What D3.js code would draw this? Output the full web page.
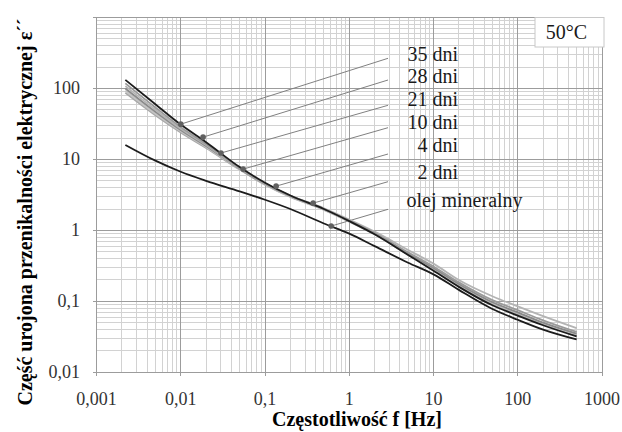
<!DOCTYPE html>
<html>
<head>
<meta charset="utf-8">
<script src="https://cdn.jsdelivr.net/npm/d3@7"></script>
<style>
  body { margin: 0; background: #fff; }
  svg { display: block; }
</style>
</head>
<body>
<svg id="chart" width="622" height="432" font-family="Liberation Serif, Times New Roman, serif"></svg>
<script>
// Frequencies [Hz] shared by all series
const freqs = [0.0022, 0.005, 0.01, 0.02, 0.05, 0.1, 0.2, 0.5, 1, 2, 5, 10, 20, 50, 100, 200, 500];

// Imaginary part of permittivity for each ageing time
const dni35 = [132, 60, 31, 17.5, 7.8, 4.7, 3.1, 2.0, 1.35, 0.88, 0.45, 0.27, 0.16, 0.088, 0.063, 0.046, 0.032];
const dni28 = [118, 54, 28.5, 16.5, 7.6, 4.6, 3.1, 2.02, 1.38, 0.92, 0.49, 0.31, 0.185, 0.104, 0.075, 0.054, 0.037];
const dni21 = [108, 50, 27, 16, 7.5, 4.55, 3.1, 2.05, 1.42, 0.96, 0.53, 0.34, 0.2, 0.118, 0.085, 0.062, 0.042];
const dni10 = [100, 47, 26, 15.5, 7.4, 4.5, 3.05, 2.0, 1.37, 0.9, 0.47, 0.295, 0.175, 0.097, 0.07, 0.05, 0.035];
const dni4 = [93, 44, 25, 15, 7.3, 4.45, 3.0, 1.98, 1.35, 0.89, 0.46, 0.29, 0.172, 0.095, 0.068, 0.049, 0.034];
const dni2 = [87, 42, 24, 14.5, 7.2, 4.4, 2.95, 1.95, 1.33, 0.88, 0.455, 0.285, 0.168, 0.092, 0.066, 0.048, 0.033];
const olej = [16, 9.6, 6.7, 5.0, 3.55, 2.7, 2.0, 1.25, 0.9, 0.6, 0.35, 0.24, 0.145, 0.078, 0.055, 0.04, 0.029];

// Series labels and where their leader lines touch the curves
const labels = ['35 dni', '28 dni', '21 dni', '10 dni', '4 dni', '2 dni', 'olej mineralny'];
const markerF = [0.01, 0.0184, 0.03, 0.055, 0.1355, 0.373, 0.61];
const markerV = [31.4, 20.6, 12.3, 7.3, 4.2, 2.42, 1.15];

// Tick labels
const xTicks = [0.001, 0.01, 0.1, 1, 10, 100, 1000];
const xTickLabels = ['0,001', '0,01', '0,1', '1', '10', '100', '1000'];
const yTicks = [0.01, 0.1, 1, 10, 100];
const yTickLabels = ['0,01', '0,1', '1', '10', '100'];

const seriesValues = [dni35, dni28, dni21, dni10, dni4, dni2, olej];
const seriesColors = ['#1c1c1c', '#9a9a9a', '#b4b4b4', '#8a8a8a', '#c4c4c4', '#a8a8a8', '#1c1c1c'];

const svg = d3.select('#chart');

// Plot area in pixels
const plot = { left: 96.5, right: 602, top: 17.5, bottom: 372.3 };

const x = d3.scaleLog().domain([0.001, 1000]).range([plot.left, plot.right]);
const y = d3.scaleLog().domain([0.01, 1000]).range([plot.bottom, plot.top]);

// Minor and major grid values
const minorX = [], minorY = [];
for (let e = -3; e < 3; e++) for (let m = 2; m <= 9; m++) minorX.push(m * Math.pow(10, e));
for (let e = -2; e < 3; e++) for (let m = 2; m <= 9; m++) minorY.push(m * Math.pow(10, e));
const majorX = xTicks;
const majorY = [0.01, 0.1, 1, 10, 100, 1000];

const grid = svg.append('g').attr('shape-rendering', 'crispEdges');
grid.selectAll('.mx').data(minorX).enter().append('line')
    .attr('x1', d => x(d)).attr('x2', d => x(d))
    .attr('y1', plot.top).attr('y2', plot.bottom)
    .attr('stroke', '#d2d2d2');
grid.selectAll('.my').data(minorY).enter().append('line')
    .attr('x1', plot.left).attr('x2', plot.right)
    .attr('y1', d => y(d)).attr('y2', d => y(d))
    .attr('stroke', '#d2d2d2');
grid.selectAll('.Mx').data(majorX).enter().append('line')
    .attr('x1', d => x(d)).attr('x2', d => x(d))
    .attr('y1', plot.top).attr('y2', plot.bottom + 4)
    .attr('stroke', '#9c9c9c');
grid.selectAll('.My').data(majorY).enter().append('line')
    .attr('x1', plot.left - 4).attr('x2', plot.right)
    .attr('y1', d => y(d)).attr('y2', d => y(d))
    .attr('stroke', '#9c9c9c');

// Tick labels
svg.selectAll('.xl').data(xTicks).enter().append('text')
    .attr('x', d => x(d)).attr('y', 405)
    .attr('text-anchor', 'middle')
    .attr('font-size', 18).attr('fill', '#333')
    .text((d, i) => xTickLabels[i]);
svg.selectAll('.yl').data(yTicks).enter().append('text')
    .attr('x', 80).attr('y', d => y(d) + 6)
    .attr('text-anchor', 'end')
    .attr('font-size', 18).attr('fill', '#333')
    .text((d, i) => yTickLabels[i]);

// Axis titles
svg.append('text')
    .attr('x', 357).attr('y', 426)
    .attr('text-anchor', 'middle')
    .attr('font-size', 20).attr('font-weight', 'bold')
    .text('Częstotliwość f [Hz]');
svg.append('text')
    .attr('transform', 'translate(32,212) rotate(-90)')
    .attr('text-anchor', 'middle')
    .attr('font-size', 20).attr('font-weight', 'bold')
    .text('Część urojona przenikalności elektrycznej ε´´');

// Leader lines from labels to curves
const leaderEndY = [58.3, 80, 105.3, 127.7, 154, 181.7, 209.3];
svg.selectAll('.leader').data(labels).enter().append('line')
    .attr('x1', (d, i) => x(markerF[i])).attr('y1', (d, i) => y(markerV[i]))
    .attr('x2', 388).attr('y2', (d, i) => leaderEndY[i])
    .attr('stroke', '#808080').attr('stroke-width', 1);

// Curves
const line = d3.line()
    .x((d, i) => x(freqs[i]))
    .y(d => y(d))
    .curve(d3.curveMonotoneX);

const order = [5, 4, 3, 2, 1, 6, 0];
order.forEach(k => {
    svg.append('path')
        .datum(seriesValues[k])
        .attr('fill', 'none')
        .attr('stroke', seriesColors[k])
        .attr('stroke-width', 1.8)
        .attr('d', line);
});

// Marker dots
svg.selectAll('.dot').data(labels).enter().append('circle')
    .attr('cx', (d, i) => x(markerF[i])).attr('cy', (d, i) => y(markerV[i]))
    .attr('r', 2.8).attr('fill', '#606060');

// Labels
const labelBaseY = [61, 82.7, 106, 129.3, 151.7, 179, 206.7];
svg.selectAll('.lbl').data(labels).enter().append('text')
    .attr('x', (d, i) => i < 6 ? 458 : 406.5)
    .attr('y', (d, i) => labelBaseY[i])
    .attr('text-anchor', (d, i) => i < 6 ? 'end' : 'start')
    .attr('font-size', 20).attr('fill', '#1a1a1a')
    .text(d => d);

// Temperature box
svg.append('rect')
    .attr('x', 535).attr('y', plot.top).attr('width', 69).attr('height', 29.5)
    .attr('fill', '#fff').attr('stroke', '#c8c8c8');
svg.append('text')
    .attr('x', 566.5).attr('y', 39.3)
    .attr('text-anchor', 'middle')
    .attr('font-size', 20).attr('fill', '#1a1a1a')
    .text('50°C');
</script>
</body>
</html>
